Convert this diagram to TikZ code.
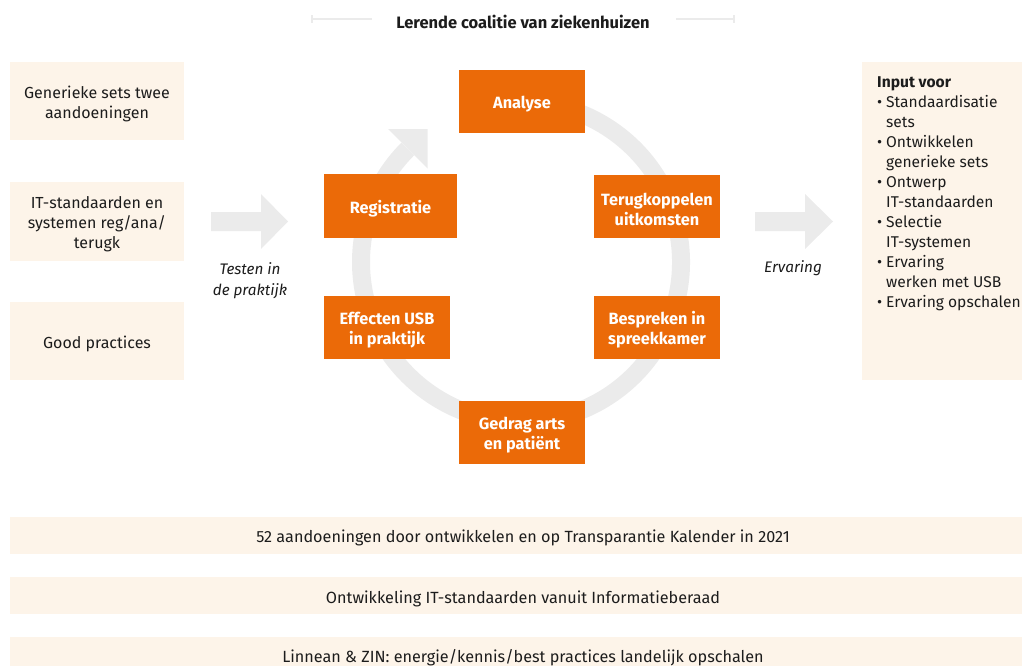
\documentclass[tikz,border=0pt]{standalone}
\usepackage{fontspec}
\setmainfont{Fira Sans}
\usetikzlibrary{calc}
\definecolor{peach}{RGB}{253,244,233}
\definecolor{oran}{RGB}{235,106,8}
\definecolor{ringgray}{RGB}{235,235,235}
\definecolor{txt}{RGB}{28,28,28}
\begin{document}
\begin{tikzpicture}[x=1pt,y=1pt,
  peachbox/.style={fill=peach, draw=none, inner sep=0pt, minimum width=174},
  peachtext/.style={text=txt, font=\fontsize{16}{20}\selectfont, align=center, inner sep=0pt, yshift=-3},
  stepbox/.style={fill=oran, draw=none, inner sep=0pt, minimum width=126, minimum height=63},
  steptext/.style={text=white, font=\fontsize{16.3}{20}\selectfont\bfseries, align=center, inner sep=0pt, yshift=-2.5},
  lbl/.style={text=txt, font=\fontsize{15.3}{21}\selectfont\itshape, align=center, inner sep=0pt},
  bartext/.style={text=txt, font=\fontsize{16.2}{20}\selectfont, inner sep=0pt},
  blockarrow/.style={fill=ringgray, draw=none},
  titleline/.style={draw=ringgray, line width=2}
]
\useasboundingbox (0,0) rectangle (1022,-666);

% title
\node[font=\fontsize{16.5}{20}\selectfont\bfseries, text=txt, inner sep=0pt] (title) at (523,-22) {Lerende coalitie van ziekenhuizen};
\coordinate (tl1) at (312,-19);
\coordinate (tl2) at (372,-19);
\coordinate (tr1) at (676,-19);
\coordinate (tr2) at (734,-19);
\draw[titleline] (tl1) -- (tl2);
\draw[titleline] ($(tl1)+(0,4)$) -- ($(tl1)+(0,-4)$);
\draw[titleline] (tr1) -- (tr2);
\draw[titleline] ($(tr2)+(0,4)$) -- ($(tr2)+(0,-4)$);

% left boxes
\node[peachbox, minimum height=78, label={[peachtext]center:{Generieke sets twee\\aandoeningen}}] (gen) at (97,-101) {};
\node[peachbox, minimum height=79, label={[peachtext]center:{IT-standaarden en\\systemen reg/ana/\\terugk}}] (its) at (97,-221.5) {};
\node[peachbox, minimum height=78, label={[peachtext]center:{Good practices}}] (gp) at (97,-341) {};

% block arrows
\fill[blockarrow] (211,-212) -- (261,-212) -- (261,-194) -- (288,-221.5) -- (261,-249) -- (261,-231) -- (211,-231) -- cycle;
\fill[blockarrow] (755,-212) -- (805,-212) -- (805,-194) -- (833,-221.5) -- (805,-249) -- (805,-231) -- (755,-231) -- cycle;
\node[lbl] (testen) at (250,-280.5) {Testen in\\de praktijk};
\node[lbl] (ervaring) at (793,-268) {Ervaring};

% ring
\coordinate (c) at (521,-262);
\draw[ringgray, line width=18] ($(c)+(100:160)$) arc[start angle=100, end angle=-225, radius=160pt];
\coordinate (p) at ($(c)+(135:160)$);
\fill[ringgray] ($(p)+(135:28)$) -- ($(p)+(-45:28)$) -- ($(p)+(45:28)$) -- cycle;

% steps
\node[stepbox, label={[steptext]center:Analyse}] (analyse) at (522,-101.5) {};
\node[stepbox, minimum width=133, minimum height=64, label={[steptext]center:Registratie}] (reg) at (390.5,-206) {};
\node[stepbox, label={[steptext]center:{Terugkoppelen\\uitkomsten}}] (terug) at (657,-206.5) {};
\node[stepbox, label={[steptext]center:{Effecten USB\\in praktijk}}] (effect) at (387,-327.5) {};
\node[stepbox, label={[steptext]center:{Bespreken in\\spreekkamer}}] (besp) at (657,-327.5) {};
\node[stepbox, label={[steptext]center:{Gedrag arts\\en patiënt}}] (gedrag) at (522,-432.5) {};

% right box
\fill[peach] (862,-62) rectangle (1022,-380);
\node[anchor=north west, inner sep=0pt, text=txt, font=\fontsize{15.6}{20}\selectfont, align=left] (input) at (877,-76.5)
{\textbf{Input voor}\\
\makebox[9pt][l]{\textbullet}Standaardisatie\\
\hspace*{9pt}sets\\
\makebox[9pt][l]{\textbullet}Ontwikkelen\\
\hspace*{9pt}generieke sets\\
\makebox[9pt][l]{\textbullet}Ontwerp\\
\hspace*{9pt}IT-standaarden\\
\makebox[9pt][l]{\textbullet}Selectie\\
\hspace*{9pt}IT-systemen\\
\makebox[9pt][l]{\textbullet}Ervaring\\
\hspace*{9pt}werken met USB\\
\makebox[9pt][l]{\textbullet}Ervaring opschalen};

% bottom bars
\fill[peach] (10,-517) rectangle (1022,-554);
\fill[peach] (10,-577) rectangle (1022,-614);
\fill[peach] (10,-637) rectangle (1022,-666);
\node[bartext] (b1) at (523,-538) {52 aandoeningen door ontwikkelen en op Transparantie Kalender in 2021};
\node[bartext] (b2) at (523,-598.5) {Ontwikkeling IT-standaarden vanuit Informatieberaad};
\node[bartext] (b3) at (523,-658) {Linnean \& ZIN: energie/kennis/best practices landelijk opschalen};
\end{tikzpicture}
\end{document}
